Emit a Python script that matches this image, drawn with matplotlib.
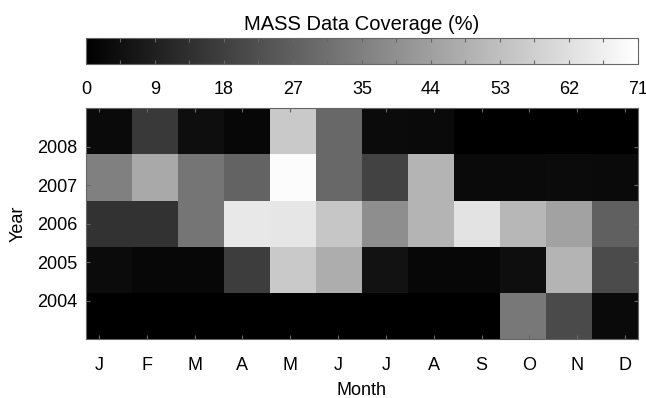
import matplotlib.pyplot as plt
import numpy as np
import matplotlib as mpl

mpl.rcParams['font.family'] = ['Liberation Sans', 'DejaVu Sans']
mpl.rcParams['font.size'] = 13

# Input
months = ['J', 'F', 'M', 'A', 'M', 'J', 'J', 'A', 'S', 'O', 'N', 'D']
years = ['2008', '2007', '2006', '2005', '2004']

# coverage (%) per year, Jan..Dec (rows listed top to bottom)
cov_2008 = [2.8, 16.0, 4.0, 2.0, 56.0, 29.0, 3.3, 3.0, 0.0, 0.0, 0.0, 0.0]
cov_2007 = [35.6, 47.0, 32.5, 27.5, 70.0, 29.0, 18.4, 50.0, 2.8, 2.8, 3.3, 2.8]
cov_2006 = [14.0, 14.0, 32.5, 64.5, 64.0, 55.0, 39.5, 50.0, 63.0, 51.0, 45.0, 26.7]
cov_2005 = [3.3, 2.2, 2.2, 17.0, 56.0, 48.0, 5.0, 2.0, 2.0, 4.0, 50.0, 21.0]
cov_2004 = [0.0, 0.0, 0.0, 0.0, 0.0, 0.0, 0.0, 0.0, 0.0, 33.4, 20.6, 2.8]

cbar_labels = ['0', '9', '18', '27', '35', '44', '53', '62', '71']
vmax = 71.0

coverage = np.array([cov_2004, cov_2005, cov_2006, cov_2007, cov_2008])  # bottom to top

spine_col = '#666666'

fig = plt.figure(figsize=(6.46, 3.98), dpi=100)
ax = fig.add_axes([0.1331, 0.1482, 0.8545, 0.5797])
cax = fig.add_axes([0.1331, 0.8392, 0.8545, 0.0646])

mesh = ax.pcolormesh(np.arange(13), np.arange(6), coverage, cmap='gray', vmin=0, vmax=vmax)
ax.set_xlim(0, 12)
ax.set_ylim(0, 5)
ax.set_xticks(np.linspace(0.28, 11.72, 12))
ax.set_xticklabels(months)
ax.set_yticks(np.arange(1, 6) * 5 / 6.0)
ax.set_yticklabels(years[::-1])
ax.tick_params(direction='in', length=3, color=spine_col, top=True, right=True, pad=13)
ax.tick_params(axis='y', pad=6)
ax.set_xlabel('Month', labelpad=6)
ax.set_ylabel('Year', labelpad=8)
for s in ax.spines.values():
    s.set_color(spine_col)

cb = fig.colorbar(mesh, cax=cax, orientation='horizontal')
cb.outline.set_edgecolor(spine_col)
cax.set_xticks(np.linspace(0, vmax, 17), minor=False)
cax.set_xticklabels([cbar_labels[i // 2] if i % 2 == 0 else '' for i in range(17)])
cax.tick_params(direction='in', length=3, color=spine_col, top=True, bottom=True, pad=12)
cax.set_title('MASS Data Coverage (%)', pad=6, fontsize=14.5)

plt.savefig('out.png', dpi=100)
